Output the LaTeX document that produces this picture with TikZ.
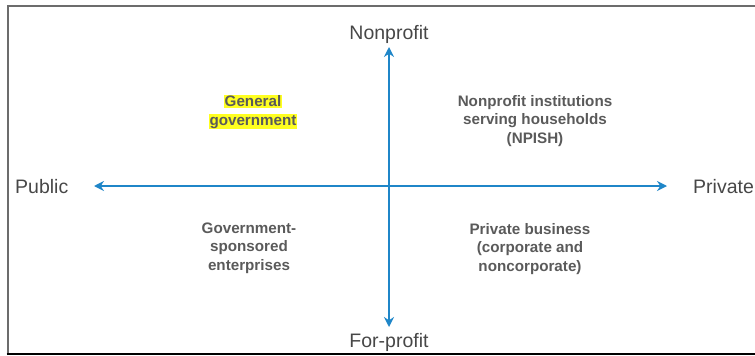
\documentclass[tikz,border=0pt]{standalone}
\usepackage{fontspec}
\setmainfont{Liberation Sans}
\usetikzlibrary{arrows.meta,positioning}
\definecolor{axisblue}{HTML}{1F86C8}
\definecolor{labelgray}{HTML}{474747}
\definecolor{boxgray}{HTML}{5A5A5A}
\definecolor{hlyellow}{HTML}{FFFF20}
\newcommand{\hl}[1]{{\setlength{\fboxsep}{1pt}\colorbox{hlyellow}{#1}}}

\begin{document}
\begin{tikzpicture}[x=1pt,y=-1pt,
  axis/.style={axisblue,line width=2.8pt,{Stealth[length=10pt,width=10pt]}-{Stealth[length=10pt,width=10pt]}},
  axislabel/.style={text=labelgray,font=\fontsize{19.5}{22}\selectfont,inner sep=0pt},
  sector/.style={text=boxgray,font=\fontsize{15.2}{18.4}\selectfont\bfseries,align=center,inner sep=0pt}
]
\useasboundingbox (0,0) rectangle (755,356);

% frame
\draw[gray!85!black,line width=2pt] (7.5,355) -- (7.5,6) -- (755,6);
\draw[black,line width=2pt] (6.5,354) -- (755,354);

% axes
\coordinate (top) at (389,47);
\coordinate (bottom) at (389,327);
\coordinate (left) at (94,186);
\coordinate (right) at (667,186);
\draw[axis] (left) -- (right);
\draw[axis] (top) -- (bottom);

\node[axislabel] (nonprofit) at (389,34) {Nonprofit};
\node[axislabel] (forprofit) at (389,342) {For-profit};
\node[axislabel,anchor=west] (public) at (15,187) {Public};
\node[axislabel,anchor=west] (private) at (693,187) {Private};

% sectors
\node[sector] (gengov) at (253,112) {\hl{General}\\[0pt]\hl{government}};
\node[sector] (npish) at (535,121) {Nonprofit institutions\\serving households\\(NPISH)};
\node[sector] (gse) at (249,248) {Government-\\sponsored\\enterprises};
\node[sector] (business) at (530,249) {Private business\\(corporate and\\noncorporate)};
\end{tikzpicture}
\end{document}
